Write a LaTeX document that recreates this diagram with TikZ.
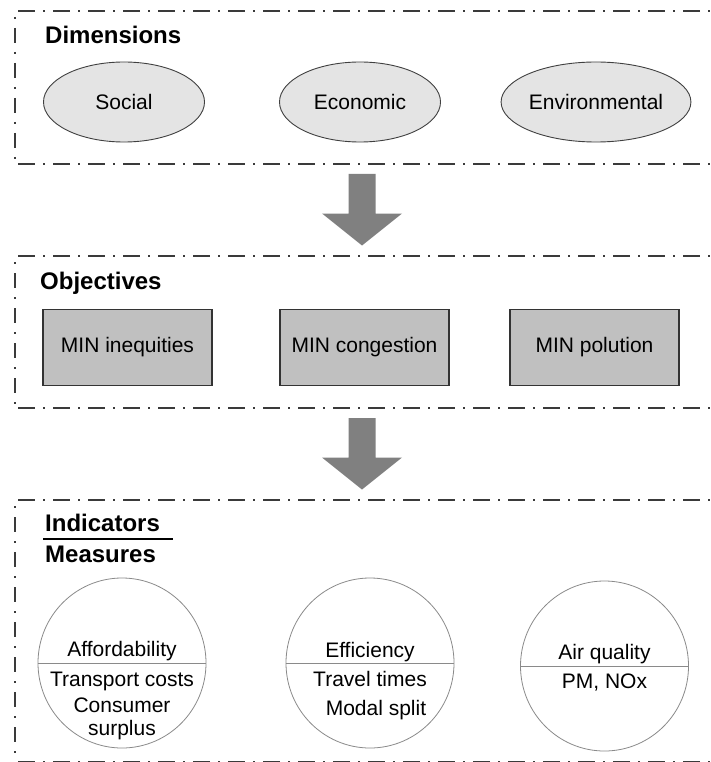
\documentclass[tikz,border=0pt]{standalone}
\usepackage{fontspec}
\setmainfont{Liberation Sans}
\usetikzlibrary{shapes.geometric,calc}
\definecolor{framegray}{HTML}{3A3A3A}
\definecolor{ellfill}{HTML}{E4E4E4}
\definecolor{rectfill}{HTML}{C0C0C0}
\definecolor{arrowgray}{HTML}{808080}
\definecolor{circline}{HTML}{8A8A8A}
\tikzset{
  hframe/.style={draw=framegray, line width=2.2pt, dash pattern=on 17pt off 8pt on 2pt off 8pt},
  vframe/.style={draw=framegray, line width=2.2pt, dash pattern=on 2pt off 9pt on 15pt off 9pt},
  title/.style={font=\fontsize{24}{28}\selectfont\bfseries, inner sep=0pt, anchor=base west},
  dimell/.style={ellipse, draw=black!75, line width=0.9pt, fill=ellfill, minimum width=161pt, minimum height=80pt, inner sep=0pt, font=\fontsize{21}{25}\selectfont},
  objbox/.style={rectangle, draw=black!80, line width=1.2pt, fill=rectfill, minimum width=169pt, minimum height=76pt, inner sep=0pt, font=\fontsize{21}{25}\selectfont},
  indcirc/.style={ellipse, draw=circline, line width=0.8pt, fill=white, minimum width=168pt, minimum height=170pt, inner sep=0pt},
  ctext/.style={font=\fontsize{21}{25}\selectfont, inner sep=0pt, anchor=base},
  bigarrow/.style={fill=arrowgray, draw=none}
}
\begin{document}
\begin{tikzpicture}[x=1pt,y=-1pt]
\useasboundingbox (0,0) rectangle (711,762);
\fill[white] (0,0) rectangle (711,762);
% frames
\draw[hframe] (18,11) -- (711,11);
\draw[hframe] (18,164) -- (711,164);
\draw[vframe] (15,17) -- (15,160);
\draw[hframe] (18,256) -- (711,256);
\draw[hframe] (18,408) -- (711,408);
\draw[vframe] (15,262) -- (15,404);
\draw[hframe] (18,500) -- (711,500);
\draw[hframe] (18,762) -- (711,762);
\draw[vframe] (15,506) -- (15,760);
% Dimensions
\node[title] (tdim) at (45,44) {Dimensions};
\node[dimell] (social) at (124,102) {Social};
\node[dimell] (econ) at (360,102) {Economic};
\node[dimell] (env) at (596,102) {Environmental};
% Objectives
\node[title] (tobj) at (40,289) {Objectives};
\node[objbox] (ineq) at (127.5,347.5) {MIN inequities};
\node[objbox] (cong) at (364.5,347.5) {MIN congestion};
\node[objbox] (pol) at (594.5,347.5) {MIN polution};
% Indicators / Measures
\node[title] (tind) at (45,531) {Indicators};
\node[title] (tmea) at (45,562) {Measures};
\draw[line width=1.5pt] (43,539) -- (173,539);
\node[indcirc] (c1) at (122,663) {};
\node[indcirc] (c2) at (370,663) {};
\node[indcirc] (c3) at (604.5,666) {};
\draw[circline, line width=0.8pt] (c1.west) -- (c1.east);
\draw[circline, line width=0.8pt] (c2.west) -- (c2.east);
\draw[circline, line width=0.8pt] (c3.west) -- (c3.east);
\node[ctext] (afford) at (122,656) {Affordability};
\node[ctext] (tcost) at (122,686) {Transport costs};
\node[ctext] (consum) at (122,712) {Consumer};
\node[ctext] (surpl) at (122,735) {surplus};
\node[ctext] (effic) at (370,657) {Efficiency};
\node[ctext] (ttime) at (370,686) {Travel times};
\node[ctext] (modal) at (376,715) {Modal split};
\node[ctext] (airq) at (604.5,659) {Air quality};
\node[ctext] (pmnox) at (604.5,688) {PM, NOx};
% arrows
\coordinate (a1) at (362,174);
\coordinate (a2) at (362,418);
\foreach \a in {a1,a2}{
  \fill[bigarrow] ($(\a)+(-13.5,0)$) -- ($(\a)+(13.5,0)$) -- ($(\a)+(13.5,39.5)$) -- ($(\a)+(40,39.5)$) -- ($(\a)+(0,71.5)$) -- ($(\a)+(-40,39.5)$) -- ($(\a)+(-13.5,39.5)$) -- cycle;
}
\end{tikzpicture}
\end{document}
